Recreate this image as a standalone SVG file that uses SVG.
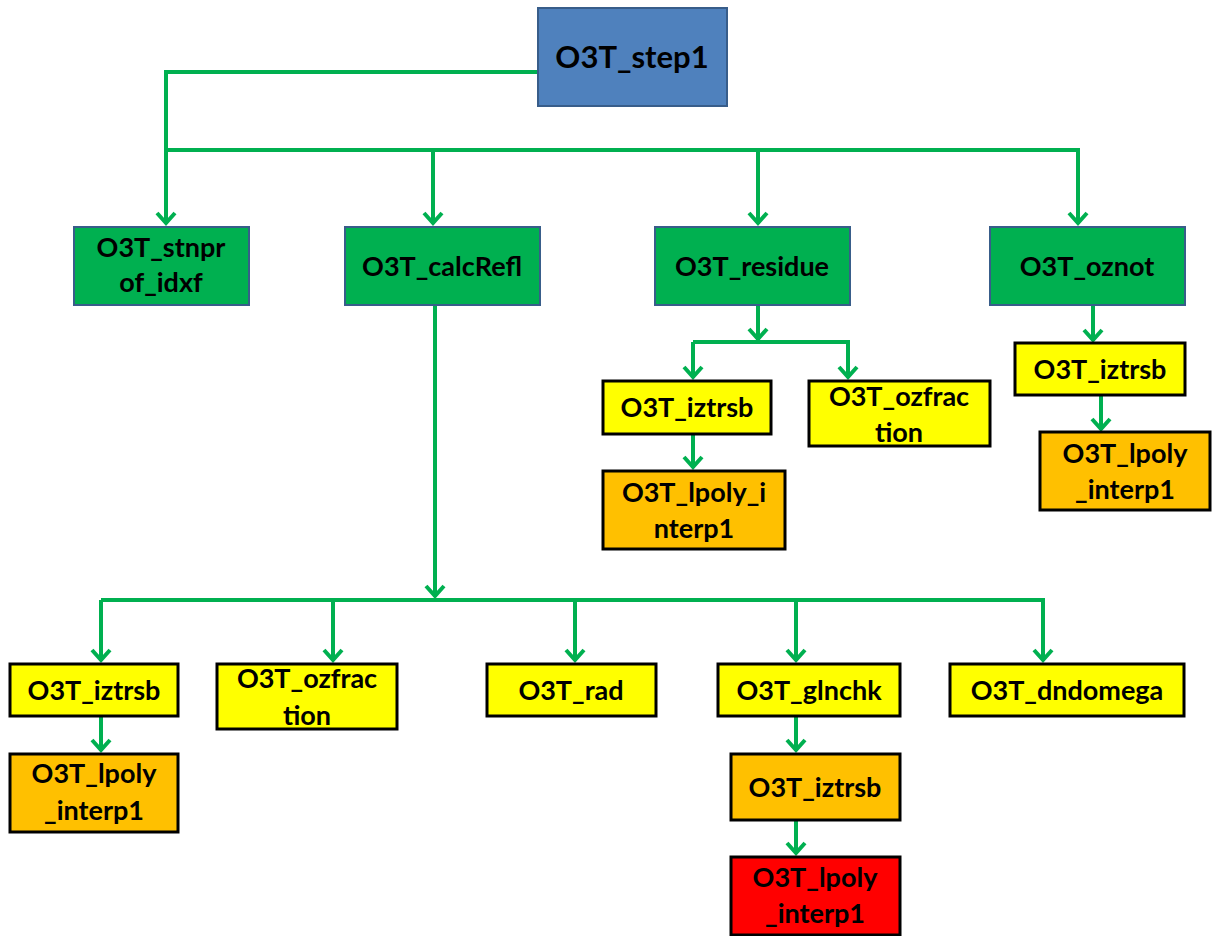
<svg xmlns="http://www.w3.org/2000/svg" width="1214" height="936" viewBox="0 0 1214 936">
<style>
.t{font-family:Lato,"Liberation Sans",sans-serif;font-weight:bold;font-size:27px;fill:#000;text-anchor:middle}
.big{font-size:31px}
.blue{fill:#4F81BD;stroke:#385D8A;stroke-width:2}
.grn{fill:#00B050;stroke:#385D8A;stroke-width:2}
.yel{fill:#FFFF00;stroke:#000;stroke-width:3}
.org{fill:#FFC000;stroke:#000;stroke-width:3}
.red{fill:#FF0000;stroke:#000;stroke-width:3}
.c{fill:none;stroke:#00B050;stroke-width:4}
</style>
<defs>
<marker id="ah" markerUnits="userSpaceOnUse" viewBox="-14 -12 18 24" refX="0" refY="0" markerWidth="18" markerHeight="24" orient="auto">
<path d="M-11,-9 L-1,0 L-11,9" fill="none" stroke="#00B050" stroke-width="4"/>
</marker>
</defs>
<g id="connectors">
<path class="c" d="M538,72 H166 V224" marker-end="url(#ah)"/>
<path class="c" d="M166,150 H1078 V224" marker-end="url(#ah)"/>
<path class="c" d="M433,150 V224" marker-end="url(#ah)"/>
<path class="c" d="M758,150 V224" marker-end="url(#ah)"/>
<path class="c" d="M758,305 V340" marker-end="url(#ah)"/>
<path class="c" d="M693,342 H848 V378" marker-end="url(#ah)"/>
<path class="c" d="M693,342 V378" marker-end="url(#ah)"/>
<path class="c" d="M693,434 V468" marker-end="url(#ah)"/>
<path class="c" d="M1093,305 V341" marker-end="url(#ah)"/>
<path class="c" d="M1101,395 V430" marker-end="url(#ah)"/>
<path class="c" d="M435,305 V597" marker-end="url(#ah)"/>
<path class="c" d="M101,600 H1043 V661" marker-end="url(#ah)"/>
<path class="c" d="M101,600 V661" marker-end="url(#ah)"/>
<path class="c" d="M333,600 V661" marker-end="url(#ah)"/>
<path class="c" d="M575,600 V661" marker-end="url(#ah)"/>
<path class="c" d="M796,600 V661" marker-end="url(#ah)"/>
<path class="c" d="M101,716 V751" marker-end="url(#ah)"/>
<path class="c" d="M796,716 V751" marker-end="url(#ah)"/>
<path class="c" d="M796,820 V854" marker-end="url(#ah)"/>
</g>
<g id="step1"><rect class="blue" x="538" y="8" width="189" height="98"/><text class="t big" x="632" y="68">O3T_step1</text></g>
<g id="stnprof"><rect class="grn" x="74" y="227" width="175" height="78"/><text class="t" x="161" y="257">O3T_stnpr</text><text class="t" x="161" y="292">of_idxf</text></g>
<g id="calcRefl"><rect class="grn" x="345" y="227" width="195" height="78"/><text class="t" x="442" y="276">O3T_calcRefl</text></g>
<g id="residue"><rect class="grn" x="655" y="227" width="195" height="78"/><text class="t" x="752" y="276">O3T_residue</text></g>
<g id="oznot"><rect class="grn" x="990" y="227" width="195" height="78"/><text class="t" x="1087" y="276">O3T_oznot</text></g>
<g id="res_iztrsb"><rect class="yel" x="603" y="381" width="168" height="53"/><text class="t" x="687" y="417">O3T_iztrsb</text></g>
<g id="res_ozfraction"><rect class="yel" x="809" y="381" width="181" height="65"/><text class="t" x="899" y="406">O3T_ozfrac</text><text class="t" x="899" y="442">tion</text></g>
<g id="res_lpoly"><rect class="org" x="603" y="471" width="182" height="78"/><text class="t" x="694" y="502">O3T_lpoly_i</text><text class="t" x="694" y="538">nterp1</text></g>
<g id="oz_iztrsb"><rect class="yel" x="1015" y="343" width="170" height="52"/><text class="t" x="1100" y="379">O3T_iztrsb</text></g>
<g id="oz_lpoly"><rect class="org" x="1040" y="432" width="170" height="78"/><text class="t" x="1125" y="463">O3T_lpoly</text><text class="t" x="1125" y="499">_interp1</text></g>
<g id="cr_iztrsb"><rect class="yel" x="10" y="664" width="168" height="52"/><text class="t" x="94" y="700">O3T_iztrsb</text></g>
<g id="cr_ozfraction"><rect class="yel" x="217" y="664" width="180" height="65"/><text class="t" x="307" y="688">O3T_ozfrac</text><text class="t" x="307" y="725">tion</text></g>
<g id="rad"><rect class="yel" x="487" y="664" width="169" height="52"/><text class="t" x="571" y="700">O3T_rad</text></g>
<g id="glnchk"><rect class="yel" x="718" y="664" width="182" height="52"/><text class="t" x="809" y="700">O3T_glnchk</text></g>
<g id="dndomega"><rect class="yel" x="950" y="664" width="234" height="52"/><text class="t" x="1067" y="700">O3T_dndomega</text></g>
<g id="cr_lpoly"><rect class="org" x="10" y="754" width="168" height="78"/><text class="t" x="94" y="783">O3T_lpoly</text><text class="t" x="94" y="820">_interp1</text></g>
<g id="gl_iztrsb"><rect class="org" x="731" y="754" width="169" height="66"/><text class="t" x="815" y="797">O3T_iztrsb</text></g>
<g id="gl_lpoly"><rect class="red" x="731" y="857" width="169" height="78"/><text class="t" x="815" y="887">O3T_lpoly</text><text class="t" x="815" y="923">_interp1</text></g>
</svg>
